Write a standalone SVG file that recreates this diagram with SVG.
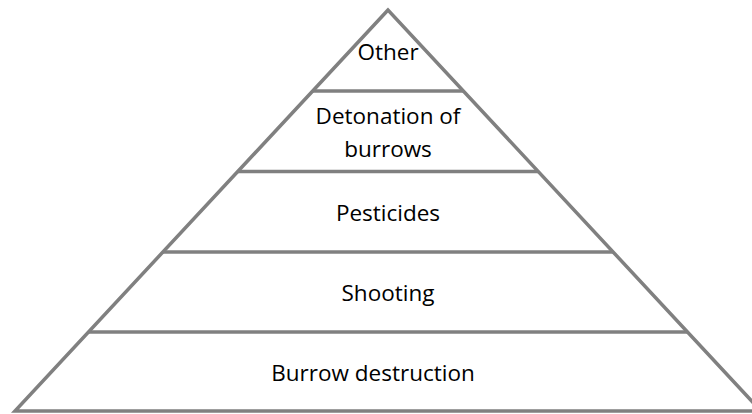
<svg xmlns="http://www.w3.org/2000/svg" width="752" height="414" viewBox="0 0 752 414">
<style>
.edge{stroke:#808080;stroke-width:3.5;fill:none;stroke-linejoin:miter}
.lbl{font-family:"Open Sans","Liberation Sans",sans-serif;font-size:22.5px;fill:#000;text-anchor:middle}
</style>
<rect width="752" height="414" fill="#fff"/>
<g id="connectors">
<path class="edge" d="M388,10 L15,411 L761,411 Z"/>
<line class="edge" x1="312.7" y1="91" x2="463.3" y2="91"/>
<line class="edge" x1="238" y1="171.5" x2="538" y2="171.5"/>
<line class="edge" x1="163" y1="252" x2="613" y2="252"/>
<line class="edge" x1="88.5" y1="332" x2="687.5" y2="332"/>
</g>
<g id="other"><text class="lbl" x="388" y="60">Other</text></g>
<g id="detonation"><text class="lbl" x="388" y="124">Detonation of</text><text class="lbl" x="388" y="157">burrows</text></g>
<g id="pesticides"><text class="lbl" x="388" y="221">Pesticides</text></g>
<g id="shooting"><text class="lbl" x="388" y="301">Shooting</text></g>
<g id="burrow"><text class="lbl" x="373" y="381">Burrow destruction</text></g>
</svg>
